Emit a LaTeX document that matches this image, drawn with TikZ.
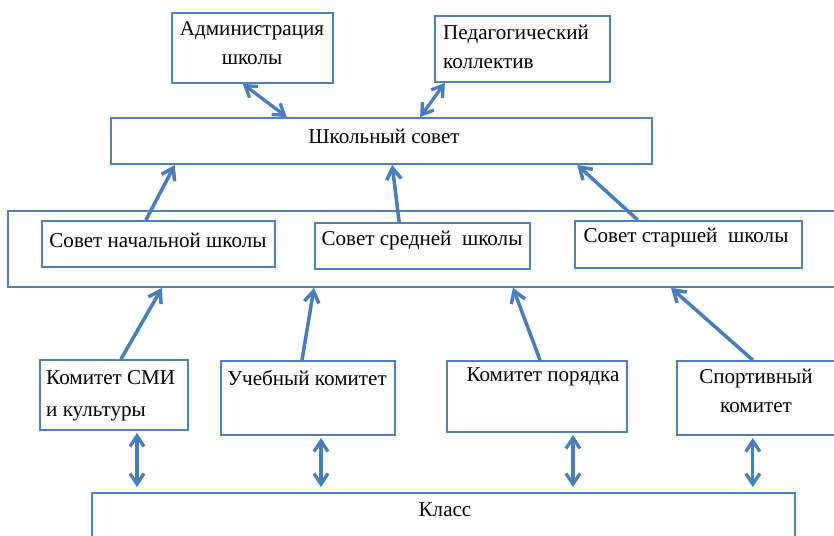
\documentclass[tikz,border=0pt]{standalone}
\usepackage{fontspec}
\setmainfont{Liberation Serif}
\usetikzlibrary{arrows.meta}

\definecolor{boxblue}{HTML}{4F81BD}
\definecolor{arrblue}{HTML}{4A7EBB}

\begin{document}
\begin{tikzpicture}
	[x=0.03cm, y=-0.03cm,
	box/.style={rectangle, draw=boxblue, line width=1.5pt, inner sep=0},
	txt/.style={inner sep=0, font=\fontsize{18}{25}\selectfont, align=center},
	up/.style={-{Straight Barb[length=3.4mm,width=4.4mm]}, arrblue, line width=3pt},
	both/.style={{Straight Barb[length=3.2mm,width=4.2mm]}-{Straight Barb[length=3.2mm,width=4.2mm]}, arrblue, line width=2.8pt}]
	\useasboundingbox (0,0) rectangle (834,536);
	\clip (0,0) rectangle (834,536);
	% boxes
	\node (adm) [box, minimum width=4.83cm, minimum height=2.1cm] at (252.5,48) {};
	\node (ped) [box, minimum width=5.25cm, minimum height=1.98cm] at (522.5,49) {};
	\node (sovet) [box, minimum width=16.23cm, minimum height=1.38cm] at (381.5,141) {};
	\node (outer) [box, minimum width=24.96cm, minimum height=2.28cm] at (424,249) {};
	\node (nach) [box, minimum width=6.99cm, minimum height=1.38cm] at (158.5,244) {};
	\node (sred) [box, minimum width=6.45cm, minimum height=1.38cm] at (422.5,246) {};
	\node (star) [box, minimum width=6.81cm, minimum height=1.41cm] at (688.5,244.5) {};
	\node (smi) [box, minimum width=4.44cm, minimum height=2.1cm] at (114,395) {};
	\node (ucheb) [box, minimum width=5.22cm, minimum height=2.22cm] at (308,398) {};
	\node (poryad) [box, minimum width=5.4cm, minimum height=2.13cm] at (537,396.5) {};
	\node (sport) [box, minimum width=4.89cm, minimum height=2.22cm] at (758.5,398) {};
	\node (klass) [box, minimum width=21.09cm, minimum height=2.01cm] at (443.5,526.5) {};
	% texts
	\node (adm-t) [txt] at (252,43) {Администрация\\школы};
	\node (ped-t) [txt, anchor=west, align=left] at (443,47) {Педагогический\\коллектив};
	\node (sovet-t) [txt] at (384,136) {Школьный совет};
	\node (nach-t) [txt] at (158,240) {Совет начальной школы};
	\node (sred-t) [txt] at (422,241) {Совет средней\ \ школы};
	\node (star-t) [txt] at (686,238) {Совет старшей\ \ школы};
	\node (smi-t) [txt, anchor=west, align=left, font=\fontsize{18}{27}\selectfont] at (46,396) {Комитет СМИ\\и культуры};
	\node (ucheb-t) [txt] at (307,378) {Учебный комитет};
	\node (poryad-t) [txt] at (543,377) {Комитет порядка};
	\node (sport-t) [txt] at (756,391) {Спортивный\\комитет};
	\node (klass-t) [txt] at (445,510) {Класс};
	% connectors
	\draw [both] ([xshift=-0.29cm]adm.south) -- ([xshift=-2.84cm]sovet.north);
	\draw [both] ([xshift=-2.33cm]ped.south) -- ([xshift=1.16cm]sovet.north);
	\draw [up] ([xshift=-0.38cm]nach.north) -- ([xshift=-6.2cm]sovet.south);
	\draw [up] ([xshift=-0.7cm]sred.north) -- ([xshift=0.32cm]sovet.south);
	\draw [up] ([xshift=-1.52cm]star.north) -- ([xshift=5.87cm]sovet.south);
	\draw [up] ([xshift=0.21cm]smi.north) -- ([xshift=-7.86cm]outer.south);
	\draw [up] ([xshift=-0.18cm]ucheb.north) -- ([xshift=-3.3cm]outer.south);
	\draw [up] ([xshift=0.09cm]poryad.north) -- ([xshift=2.67cm]outer.south);
	\draw [up] ([xshift=-0.17cm]sport.north) -- ([xshift=7.41cm]outer.south);
	\foreach \n/\dx in {smi/0.69, ucheb/0.39, poryad/1.08, sport/-0.17}
		\draw [both, shorten <=0.06cm, shorten >=0.15cm] ([xshift=\dx cm]\n.south) -- ([xshift=\dx cm]\n.south |- klass.north);
\end{tikzpicture}
\end{document}
